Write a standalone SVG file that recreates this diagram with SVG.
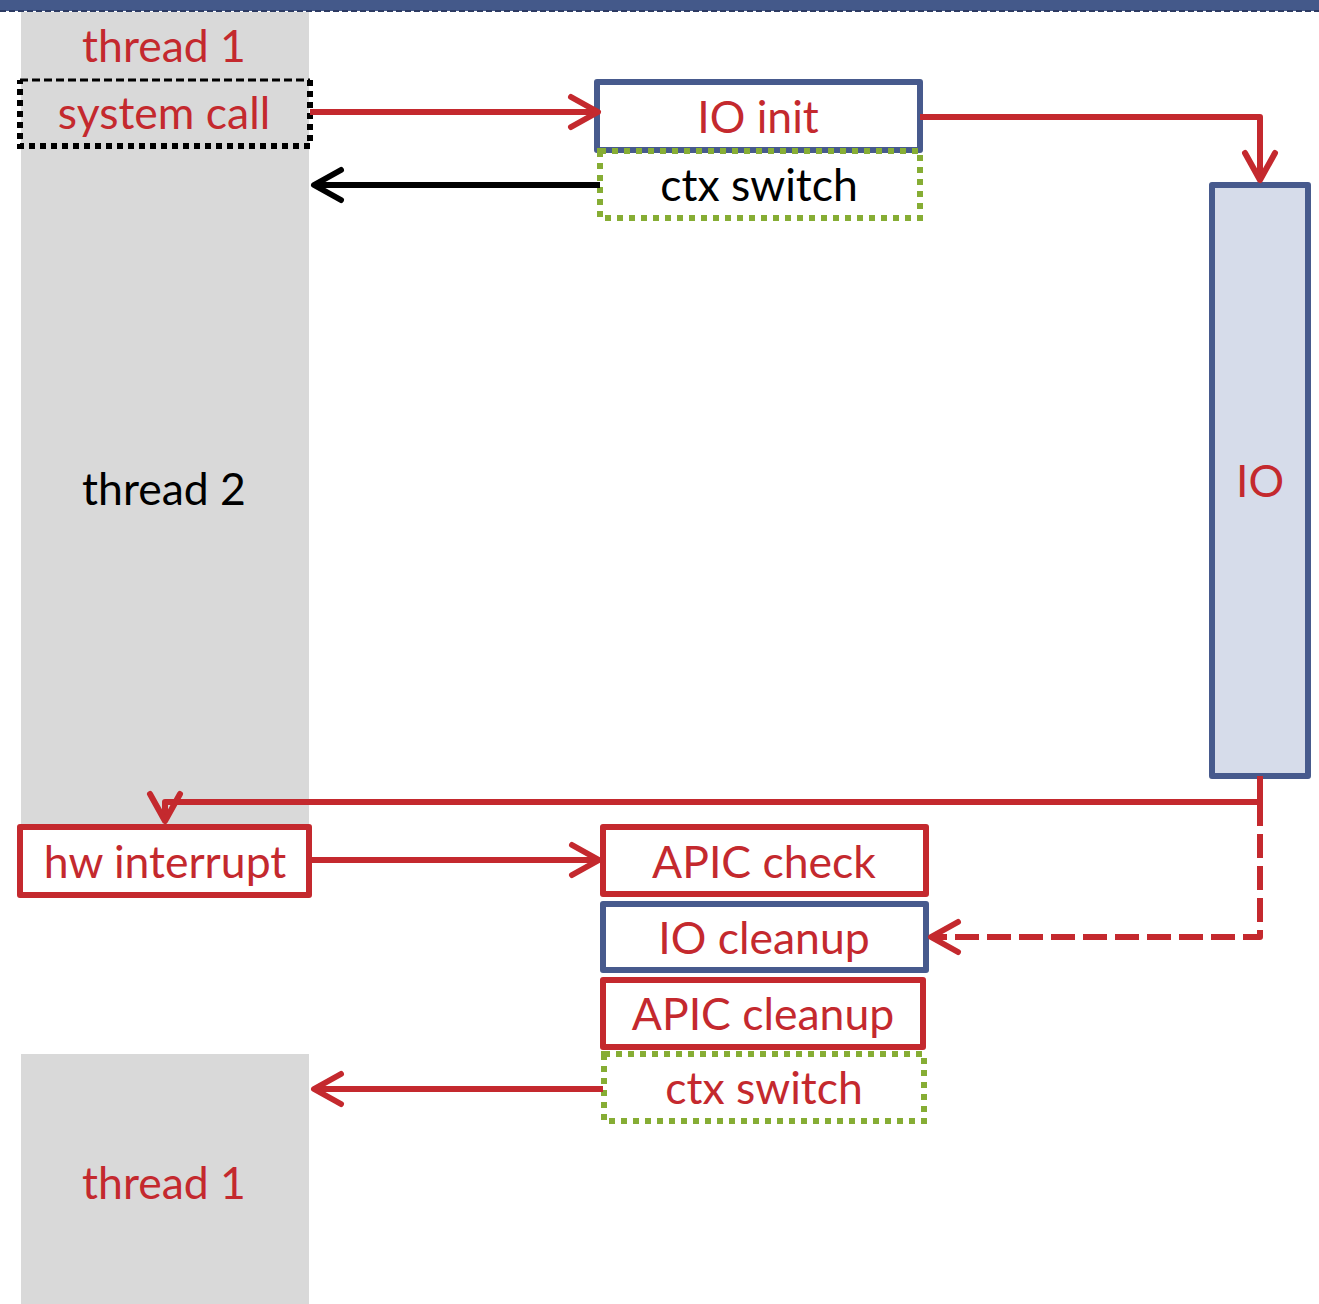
<svg xmlns="http://www.w3.org/2000/svg" width="1319" height="1304" viewBox="0 0 1319 1304">
  <style>
    .lbl { font-family: Lato, "Liberation Sans", sans-serif; font-size: 44.5px; text-anchor: middle; }
    .red { fill: #c4292e; }
    .blk { fill: #000000; }
    .lane { fill: #d9d9d9; }
    .boxRed { fill: #ffffff; stroke: #c4292e; stroke-width: 6; stroke-linejoin: round; }
    .boxBlue { fill: #ffffff; stroke: #475a8d; stroke-width: 6; stroke-linejoin: round; }
    .boxGreen { fill: none; stroke: #86ad34; stroke-width: 6; stroke-dasharray: 6 6; }
    .wire { fill: none; stroke: #c4292e; stroke-width: 6; stroke-linejoin: round; }
    .wireBlk { fill: none; stroke: #000000; stroke-width: 6; }
  </style>
  <defs>
    <marker id="headRed" markerUnits="userSpaceOnUse" markerWidth="40" markerHeight="40" viewBox="-32 -20 36 40" refX="0" refY="0" orient="auto">
      <path d="M -27 -15 L 0 0 L -27 15" fill="none" stroke="#c4292e" stroke-width="6" stroke-linecap="round" stroke-linejoin="round"/>
    </marker>
    <marker id="headBlk" markerUnits="userSpaceOnUse" markerWidth="40" markerHeight="40" viewBox="-32 -20 36 40" refX="0" refY="0" orient="auto">
      <path d="M -27 -15 L 0 0 L -27 15" fill="none" stroke="#000000" stroke-width="6" stroke-linecap="round" stroke-linejoin="round"/>
    </marker>
  </defs>

  <rect width="1319" height="1304" fill="#ffffff"/>

  <!-- title bar strip at the top -->
  <rect x="0" y="0" width="1319" height="11" fill="#44598a"/>
  <line x1="0" y1="11" x2="1319" y2="11" stroke="#2d3b63" stroke-width="2" stroke-dasharray="6 3"/>

  <!-- thread lanes -->
  <rect class="lane" x="21" y="12" width="288" height="812"/>
  <rect class="lane" x="21" y="1054" width="288" height="250"/>

  <g id="thread1-top">
    <text class="lbl red" x="164" y="62">thread 1</text>
  </g>

  <g id="system-call">
    <path d="M 20 80 L 310 80" fill="none" stroke="#000" stroke-width="3" stroke-dasharray="8 4"/>
    <path d="M 310 80 L 310 146 L 20 146 L 20 80" fill="none" stroke="#000" stroke-width="6" stroke-dasharray="6 5"/>
    <text class="lbl red" x="164" y="129">system call</text>
  </g>

  <g id="thread2">
    <text class="lbl blk" x="164" y="505">thread 2</text>
  </g>

  <g id="thread1-bottom">
    <text class="lbl red" x="164" y="1199">thread 1</text>
  </g>

  <g id="io-init">
    <rect class="boxBlue" x="597" y="82" width="323" height="68"/>
    <text class="lbl red" x="758" y="133">IO init</text>
  </g>

  <g id="ctx-switch-1">
    <rect class="boxGreen" x="600" y="151" width="320" height="67"/>
    <text class="lbl blk" x="759" y="201">ctx switch</text>
  </g>

  <g id="io">
    <rect x="1212" y="185" width="96" height="591" fill="#d6dcea" stroke="#475a8d" stroke-width="6" stroke-linejoin="round"/>
    <text class="lbl red" x="1260" y="497">IO</text>
  </g>

  <g id="hw-interrupt">
    <rect class="boxRed" x="20" y="827" width="289" height="68"/>
    <text class="lbl red" x="165" y="878">hw interrupt</text>
  </g>

  <g id="apic-check">
    <rect class="boxRed" x="603" y="827" width="323" height="67"/>
    <text class="lbl red" x="764" y="878">APIC check</text>
  </g>

  <g id="io-cleanup">
    <rect class="boxBlue" x="603" y="904" width="323" height="66"/>
    <text class="lbl red" x="764" y="954">IO cleanup</text>
  </g>

  <g id="apic-cleanup">
    <rect class="boxRed" x="603" y="980" width="320" height="67"/>
    <text class="lbl red" x="763" y="1030">APIC cleanup</text>
  </g>

  <g id="ctx-switch-2">
    <rect class="boxGreen" x="604" y="1054" width="320" height="67"/>
    <text class="lbl red" x="764" y="1104">ctx switch</text>
  </g>

  <g id="connectors">
    <path class="wire" d="M 310 112 L 598 112" marker-end="url(#headRed)"/>
    <path class="wireBlk" d="M 600 185 L 314 185" marker-end="url(#headBlk)"/>
    <path class="wire" d="M 920 117 L 1260 117 L 1260 180" marker-end="url(#headRed)"/>
    <path class="wire" d="M 1260 776 L 1260 802 L 165 802 L 165 821" marker-end="url(#headRed)"/>
    <path class="wire" d="M 1260 802 L 1260 937 L 931 937" stroke-dasharray="24 8" marker-end="url(#headRed)"/>
    <path class="wire" d="M 310 860 L 599 860" marker-end="url(#headRed)"/>
    <path class="wire" d="M 603 1089 L 314 1089" marker-end="url(#headRed)"/>
  </g>
</svg>
